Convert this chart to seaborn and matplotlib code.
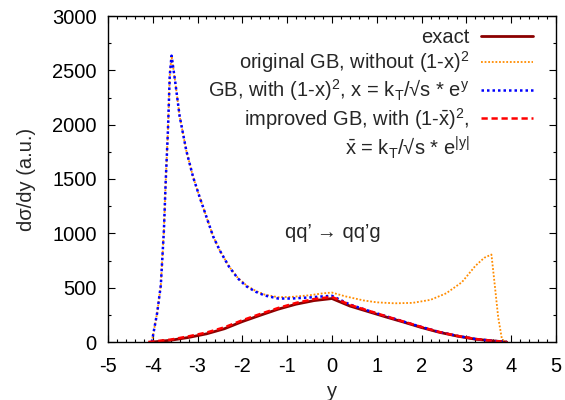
import numpy as np
import seaborn as sns
import matplotlib.pyplot as plt
from matplotlib.lines import Line2D

sns.set_style("ticks")
plt.rcParams['font.family'] = ['Liberation Sans', 'DejaVu Sans']
plt.rcParams['mathtext.fontset'] = 'custom'
plt.rcParams['mathtext.rm'] = 'Liberation Sans'
plt.rcParams['mathtext.it'] = 'Liberation Sans'
plt.rcParams['mathtext.bf'] = 'Liberation Sans:bold'
plt.rcParams['axes.unicode_minus'] = False

# exact
y_exact = [-4.0, -3.6, -3.2, -2.8, -2.4, -2.0, -1.6, -1.2, -0.8, -0.4, 0.0,
           0.4, 0.8, 1.2, 1.6, 2.0, 2.4, 2.8, 3.2, 3.6, 3.9]
v_exact = [0, 16, 42, 75, 122, 188, 246, 302, 348, 381, 400,
           331, 281, 231, 183, 133, 89, 54, 26, 10, 0]

# improved GB (red dashed)
y_impr = [-4.1, -3.6, -3.2, -2.8, -2.4, -2.0, -1.6, -1.2, -0.8, -0.4, 0.0,
          0.4, 0.8, 1.2, 1.6, 2.0, 2.4, 2.8, 3.2, 3.6, 3.9]
v_impr = [0, 22, 52, 87, 135, 200, 258, 313, 360, 395, 415,
          342, 290, 238, 188, 138, 92, 56, 28, 10, 0]

# GB with (1-x)^2 (blue dotted)
y_gb = [-4.02, -3.9, -3.82, -3.75, -3.71, -3.66, -3.62, -3.58, -3.5, -3.4,
        -3.25, -3.1, -2.95, -2.8, -2.65, -2.5, -2.3, -2.1, -1.9, -1.7, -1.5,
        -1.2, -0.9, -0.5, -0.2, 0.0, 0.4, 0.8, 1.2, 1.6, 2.0, 2.4, 2.8, 3.2,
        3.6, 3.9]
v_gb = [0, 270, 520, 1030, 1480, 1950, 2450, 2635, 2400, 2080,
        1760, 1520, 1330, 1150, 970, 840, 695, 585, 510, 462, 428,
        400, 400, 410, 420, 425, 345, 290, 238, 188, 138, 92, 56, 28,
        10, 0]

# original GB, without (1-x)^2 (orange dotted)
y_orig = [-4.02, -3.9, -3.82, -3.75, -3.71, -3.66, -3.62, -3.58, -3.5, -3.4,
          -3.25, -3.1, -2.95, -2.8, -2.65, -2.5, -2.3, -2.1, -1.9, -1.7, -1.5,
          -1.2, -0.9, -0.5, -0.2, 0.0, 0.3, 0.7, 1.0, 1.4, 1.8, 2.2, 2.55,
          2.9, 3.2, 3.4, 3.56, 3.63, 3.71, 3.79, 3.85]
v_orig = [0, 270, 520, 1030, 1480, 1950, 2450, 2635, 2400, 2080,
          1760, 1520, 1330, 1150, 970, 840, 697, 590, 518, 470, 436,
          412, 415, 430, 448, 455, 420, 383, 365, 356, 360, 388, 448,
          550, 700, 775, 805, 540, 230, 35, 0]

labels = ["exact",
          "original GB, without (1-x)$^2$",
          "GB, with (1-x)$^2$, x = k$_\\mathrm{T}$/\u221as * e$^y$",
          "improved GB, with (1-$\\bar{x}$)$^2$,",
          "$\\bar{x}$ = k$_\\mathrm{T}$/\u221as * e$^{|y|}$"]

fig = plt.figure(figsize=(5.65, 4.0), dpi=100)
ax = fig.add_axes([0.191, 0.145, 0.793, 0.815])

sns.lineplot(x=y_exact, y=v_exact, ax=ax, color='#8b0000', lw=2)
sns.lineplot(x=y_orig, y=v_orig, ax=ax, color='#ff8c00', lw=1.3,
             linestyle=(0, (1, 1)))
sns.lineplot(x=y_gb, y=v_gb, ax=ax, color='#0000ff', lw=1.8,
             linestyle=(0, (1, 1.2)))
sns.lineplot(x=y_impr, y=v_impr, ax=ax, color='#ff0000', lw=1.8,
             linestyle=(0, (2.5, 1.5)))

ax.set_xlim(-5, 5)
ax.set_ylim(0, 3000)
ax.set_xticks(np.arange(-5, 6, 1))
ax.set_yticks(np.arange(0, 3001, 500))
ax.set_xticks(np.arange(-5, 5.01, 0.2), minor=True)
ax.set_yticks(np.arange(0, 3001, 250), minor=True)
ax.tick_params(which='both', direction='in', top=True, right=True, labelsize=14.5,
               colors='black')
ax.tick_params(which='major', length=5, width=0.8)
ax.tick_params(which='minor', length=2.5, width=0.8)
ax.tick_params(axis='x', pad=11)
ax.tick_params(axis='y', pad=8)
for s in ax.spines.values():
    s.set_visible(True)
    s.set_linewidth(1)
    s.set_color('black')

ax.set_xlabel("y", fontsize=14.5, labelpad=4)
ax.set_ylabel("d\u03c3/dy (a.u.)", fontsize=14.5, labelpad=12)

ax.text(-1.05, 1010, "qq\u2019 \u2192 qq\u2019g", fontsize=14.5, ha='left', va='center')

handles = [Line2D([], [], color='#8b0000', lw=2),
           Line2D([], [], color='#ff8c00', lw=1.3, linestyle=(0, (1, 1))),
           Line2D([], [], color='#0000ff', lw=1.8, linestyle=(0, (1, 1.2))),
           Line2D([], [], color='#ff0000', lw=1.8, linestyle=(0, (2.5, 1.5))),
           Line2D([], [], color='none')]
leg = ax.legend(handles, labels, loc='upper right', frameon=False, fontsize=14.5,
                markerfirst=False, handlelength=2.6, handletextpad=0.55,
                labelspacing=0.12, borderaxespad=0, borderpad=0,
                bbox_to_anchor=(0.949, 0.964))
for t in leg.get_texts():
    t.set_ha('right')
leg._legend_box.align = "right"

fig.savefig("out.png", dpi=100)
